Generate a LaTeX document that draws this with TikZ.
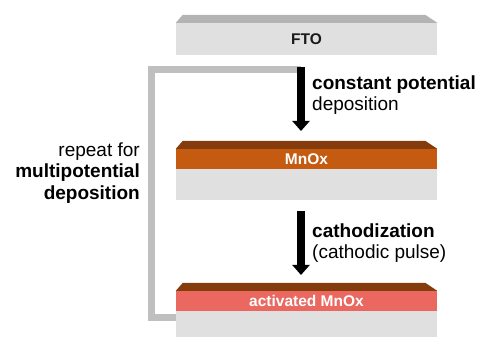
\documentclass[tikz,border=0pt]{standalone}
\usepackage{fontspec}
\setmainfont{Liberation Sans}
\usetikzlibrary{arrows.meta}
\definecolor{facegray}{HTML}{E0E0E0}
\definecolor{topgray}{HTML}{B3B3B3}
\definecolor{loopgray}{HTML}{BFBFBF}
\definecolor{mnbrown}{HTML}{843C0C}
\definecolor{mnorange}{HTML}{C55A11}
\definecolor{mnred}{HTML}{EA6860}
\tikzset{
  front/.style={fill=facegray, draw=none, inner sep=0pt, minimum width=261pt},
  band/.style={draw=none, inner sep=0pt, minimum width=261pt, minimum height=20pt, text=white, font=\fontsize{15.5}{17}\selectfont\bfseries},
  bigtext/.style={inner sep=0pt, font=\fontsize{19}{21.5}\selectfont},
  procarrow/.style={line width=8pt, -{Triangle[width=17pt,length=10pt]}},
  loopline/.style={draw=loopgray, line width=7pt, line join=miter}
}
\begin{document}
\begin{tikzpicture}[x=1pt,y=-1pt]
\useasboundingbox[fill=white] (0,0) rectangle (483,337);
% FTO block
\node[front, minimum height=32pt, font=\fontsize{15.5}{17}\selectfont\bfseries, text=black!90] (fto) at (306.5,39) {FTO};
\fill[topgray] (fto.north west) -- ++(7,-8) -- ([xshift=-12pt,yshift=8pt]fto.north east) -- (fto.north east) -- cycle;
% MnOx block
\node[band, fill=mnorange] (mnox) at (306.5,159) {MnOx};
\node[front, minimum height=31pt, anchor=north] (mnoxsub) at (mnox.south) {};
\fill[mnbrown] (mnox.north west) -- ++(7,-8) -- ([xshift=-12pt,yshift=8pt]mnox.north east) -- (mnox.north east) -- cycle;
% activated MnOx block
\node[band, fill=mnred] (act) at (306.5,301) {activated MnOx};
\node[front, minimum height=27pt, anchor=north] (actsub) at (act.south) {};
\fill[mnbrown] (act.north west) -- ++(7,-8) -- ([xshift=-12pt,yshift=8pt]act.north east) -- (act.north east) -- cycle;
% loop
\coordinate (a1start) at (301,67);
\coordinate (a1end) at (301,131);
\coordinate (loopstart) at (301,70);
\coordinate (loopend) at (actsub.west |- 0,317);
\draw[loopline] (loopstart) -| (151,317) -- (loopend);
% arrows
\draw[procarrow] (a1start) -- (a1end);
\coordinate (a2start) at (301,211);
\coordinate (a2end) at (301,275);
\draw[procarrow] (a2start) -- (a2end);
% texts
\node[bigtext, align=right, anchor=east] (repeat) at (140,173) {repeat for\\\textbf{multipotential}\\\textbf{deposition}};
\node[bigtext, align=left, anchor=west] (cpd) at (312,95) {\textbf{constant potential}\\deposition};
\node[bigtext, align=left, anchor=west] (cath) at (312,243) {\textbf{cathodization}\\(cathodic pulse)};
\end{tikzpicture}
\end{document}
